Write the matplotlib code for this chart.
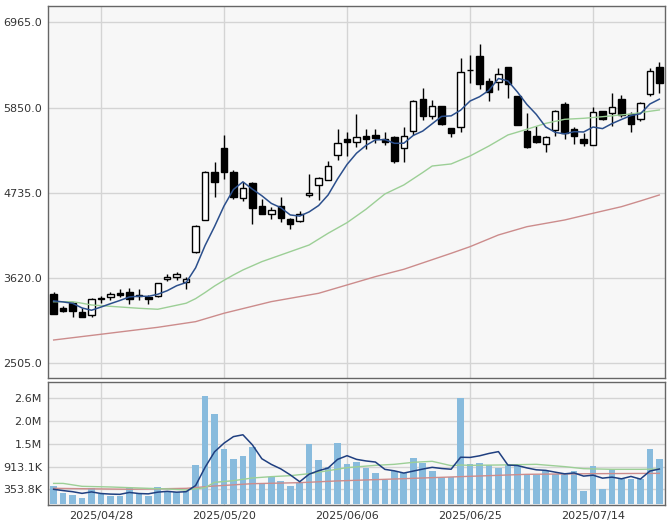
import matplotlib.pyplot as plt
import numpy as np

# x tick labels (trading day index -> date)
tick_pos = [5, 18, 31, 44, 57]
tick_labels = ['2025/04/28', '2025/05/20', '2025/06/06', '2025/06/25', '2025/07/14']

# daily OHLC
opens = [3407, 3228, 3289, 3180, 3132, 3350, 3376, 3429, 3433, 3399,
         3372, 3385, 3603, 3629, 3568, 3957, 4375, 5003, 5316, 5011,
         4662, 4867, 4562, 4458, 4562, 4392, 4366, 4706, 4837, 4902,
         5229, 5434, 5395, 5473, 5486, 5434, 5469, 5316, 5547, 5957,
         5743, 5870, 5582, 5591, 6340, 6524, 6197, 6188, 6384, 6001,
         5543, 5477, 5373, 5557, 5897, 5574, 5434, 5360, 5801, 5775,
         5958, 5766, 5696, 6027, 6376]
highs = [3433, 3254, 3302, 3233, 3355, 3385, 3442, 3472, 3485, 3472,
         3403, 3559, 3673, 3703, 3629, 4310, 5016, 5142, 5491, 5033,
         4880, 4880, 4658, 4553, 4675, 4401, 4501, 4981, 4937, 5151,
         5565, 5525, 5761, 5565, 5569, 5534, 5477, 5600, 5948, 6101,
         5948, 5870, 5582, 6493, 6537, 6677, 6232, 6363, 6384, 6001,
         5774, 5608, 5478, 5818, 5927, 5600, 5513, 5853, 5810, 6036,
         6014, 5792, 5927, 6363, 6440]
lows = [3145, 3176, 3115, 3115, 3106, 3298, 3333, 3376, 3280, 3333,
        3280, 3376, 3577, 3599, 3481, 3950, 4375, 4675, 4911, 4654,
        4627, 4327, 4453, 4388, 4357, 4257, 4349, 4675, 4641, 4902,
        5164, 5216, 5338, 5303, 5382, 5360, 5129, 5142, 5491, 5687,
        5696, 5622, 5460, 5534, 6166, 6088, 5940, 6079, 5970, 5621,
        5316, 5382, 5273, 5478, 5434, 5373, 5352, 5360, 5690, 5609,
        5731, 5526, 5674, 6001, 6036]
closes = [3145, 3193, 3193, 3115, 3342, 3359, 3416, 3403, 3346, 3390,
          3346, 3551, 3638, 3669, 3603, 4304, 5011, 4880, 5011, 4684,
          4802, 4532, 4453, 4510, 4401, 4331, 4453, 4732, 4924, 5090,
          5382, 5395, 5469, 5434, 5456, 5395, 5155, 5477, 5940, 5743,
          5874, 5635, 5512, 6310, 6345, 6153, 6057, 6284, 6153, 5621,
          5338, 5403, 5461, 5801, 5522, 5482, 5382, 5788, 5696, 5853,
          5753, 5635, 5905, 6333, 6167]

# moving average lines
ma5 = [3320, 3307, 3289, 3228, 3198, 3240, 3284, 3326, 3372, 3382,
       3380, 3407, 3454, 3519, 3561, 3753, 4045, 4293, 4562, 4778,
       4878, 4782, 4696, 4596, 4540, 4445, 4430, 4485, 4568, 4706,
       4916, 5105, 5252, 5354, 5427, 5430, 5382, 5383, 5485, 5542,
       5638, 5734, 5741, 5815, 5935, 5991, 6075, 6230, 6198, 6054,
       5891, 5760, 5595, 5525, 5505, 5534, 5530, 5595, 5574, 5640,
       5694, 5745, 5768, 5896, 5959]
ma25_x = [0, 2, 3, 4, 5, 9, 11, 14, 15, 16, 17, 18, 19, 20, 22, 24, 27, 29, 31,
          33, 35, 37, 39, 40, 42, 44, 46, 48, 50, 52, 54, 56, 58, 61, 63, 64]
ma25 = [3310, 3310, 3290, 3267, 3258, 3224, 3211, 3290, 3350, 3430, 3515,
        3590, 3660, 3725, 3834, 3921, 4052, 4205, 4344, 4519, 4719, 4837,
        5000, 5085, 5112, 5216, 5347, 5491, 5565, 5643, 5696, 5709,
        5730, 5765, 5801, 5818]
ma75_x = [0, 5, 11, 15, 18, 23, 28, 31, 34, 37, 42, 44, 47, 50, 54, 57, 60, 62, 64]
ma75 = [2809, 2884, 2975, 3049, 3159, 3311, 3420, 3529, 3638, 3734,
        3943, 4030, 4183, 4291, 4379, 4467, 4553, 4628, 4706]

# volume (thousands)
volumes = [436, 268, 225, 145, 375, 235, 198, 198, 378, 240,
           195, 408, 292, 280, 300, 951, 2640, 2205, 1345, 1106,
           1172, 1401, 501, 649, 558, 435, 520, 1467, 1074, 890,
           1492, 976, 1020, 877, 755, 590, 796, 747, 1123, 1000,
           804, 652, 656, 2598, 977, 1001, 944, 879, 944, 928,
           706, 706, 813, 723, 723, 813, 316, 928, 362, 846,
           608, 608, 600, 1346, 1100]
vol_ma5 = [354, 322, 295, 254, 290, 250, 236, 230, 277, 250,
           242, 284, 303, 283, 295, 446, 893, 1275, 1488, 1649,
           1694, 1446, 1105, 966, 856, 709, 540, 726, 811, 877,
           1089, 1180, 1090, 1051, 1024, 844, 808, 753, 802, 851,
           894, 865, 847, 1142, 1137, 1177, 1235, 1280, 949, 939,
           880, 833, 819, 775, 734, 756, 678, 701, 628, 653,
           612, 670, 605, 802, 852]
vol_ma25_x = [0, 1, 3, 6, 9, 12, 14, 16, 17, 19, 21, 23, 25, 27, 29, 31,
              34, 36, 38, 40, 42, 43, 44, 47, 51, 54, 56, 59, 62, 64]
vol_ma25 = [499, 499, 427, 411, 386, 362, 337, 394, 525, 566, 632, 665,
            689, 738, 812, 886, 943, 968, 1017, 1042, 935, 951, 943, 951,
            968, 911, 861, 845, 845, 853]
vol_ma75_x = [0, 8, 14, 17, 21, 26, 30, 36, 43, 50, 57, 64]
vol_ma75 = [378, 354, 378, 435, 492, 517, 560, 607, 665, 722, 738, 746]

price_ticks = [2505, 3620, 4735, 5850, 6965]
vol_ticks = [353.8, 913.1, 1472.4, 2031.7, 2591.0]
vol_tick_labels = ['353.8K', '913.1K', '1.5M', '2.0M', '2.6M']

bg = '#f7f7f7'
grid_c = '#d4d4d4'
frame_c = '#666666'
text_c = '#333333'

fig = plt.figure(figsize=(6.67, 5.21), dpi=100)
ax = fig.add_axes([47.5 / 667, 1 - 378.3 / 521, 617.5 / 667, 372.3 / 521])
axv = fig.add_axes([47.5 / 667, 1 - 505 / 521, 617.5 / 667, 122.7 / 521])

x = np.arange(len(closes))
o = np.array(opens)
c = np.array(closes)
up = c >= o

# candles
ax.vlines(x, lows, highs, color='black', lw=1, zorder=3)
body_bottom = np.minimum(o, c)
body_h = np.abs(c - o)
face = ['white' if u else 'black' for u in up]
ax.bar(x, body_h, bottom=body_bottom, width=0.68, color=face,
       edgecolor='black', linewidth=1, zorder=4)

ax.plot(ma75_x, ma75, color='#cc8c8c', lw=1, zorder=5)
ax.plot(ma25_x, ma25, color='#9ccf96', lw=1, zorder=5)
ax.plot(x, ma5, color='#2b4f8c', lw=1.1, zorder=6)

ax.set_ylim(2308, 7178)
ax.set_yticks(price_ticks)
ax.set_yticklabels(['%.1f' % v for v in price_ticks])

# volume
axv.bar(x, volumes, width=0.7, color='#88bbdd', zorder=3)
axv.plot(vol_ma75_x, vol_ma75, color='#cc8c8c', lw=1, zorder=4)
axv.plot(vol_ma25_x, vol_ma25, color='#9ccf96', lw=1, zorder=4)
axv.plot(x, vol_ma5, color='#1f3f80', lw=1.1, zorder=5)
axv.set_ylim(-32, 2984)
axv.set_yticks(vol_ticks)
axv.set_yticklabels(vol_tick_labels)

for a in (ax, axv):
    a.set_facecolor(bg)
    a.set_xlim(-0.65, 64.6)
    a.set_xticks(tick_pos)
    a.grid(True, color=grid_c, lw=1, zorder=0)
    a.set_axisbelow(True)
    a.tick_params(length=0, labelsize=8, colors=text_c, pad=4)
    for s in a.spines.values():
        s.set_color(frame_c)
        s.set_linewidth(1)

ax.set_xticklabels([])
axv.set_xticklabels(tick_labels)

fig.savefig('out.png', dpi=100)
